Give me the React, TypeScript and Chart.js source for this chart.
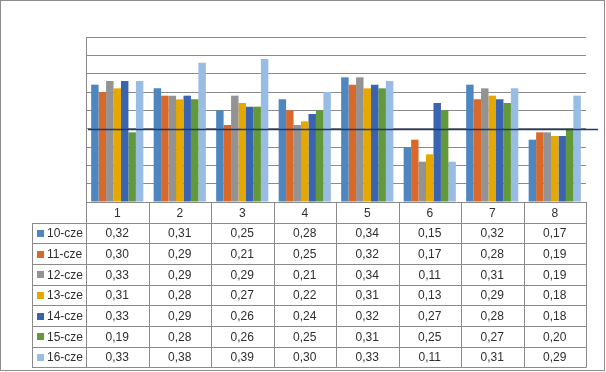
import React, { useEffect, useRef } from "react";
import { Chart, registerables } from "chart.js";

Chart.register(...registerables);

const categories = ["1", "2", "3", "4", "5", "6", "7", "8"];
const seriesNames = ["10-cze", "11-cze", "12-cze", "13-cze", "14-cze", "15-cze", "16-cze"];
const s10 = [0.32, 0.31, 0.25, 0.28, 0.34, 0.15, 0.32, 0.17];
const s11 = [0.30, 0.29, 0.21, 0.25, 0.32, 0.17, 0.28, 0.19];
const s12 = [0.33, 0.29, 0.29, 0.21, 0.34, 0.11, 0.31, 0.19];
const s13 = [0.31, 0.28, 0.27, 0.22, 0.31, 0.13, 0.29, 0.18];
const s14 = [0.33, 0.29, 0.26, 0.24, 0.32, 0.27, 0.28, 0.18];
const s15 = [0.19, 0.28, 0.26, 0.25, 0.31, 0.25, 0.27, 0.20];
const s16 = [0.33, 0.38, 0.39, 0.30, 0.33, 0.11, 0.31, 0.29];
const seriesValues = [s10, s11, s12, s13, s14, s15, s16];
const colors = ["#4E86C0", "#D9692B", "#939393", "#E5A800", "#3A64B0", "#62993A", "#98BCE3"];
const THRESHOLD = 0.2;
const Y_MAX = 0.45;
const Y_STEP = 0.05;

const FONT = "12px 'Liberation Sans', Arial, sans-serif";
const TEXT_COLOR = "#2e2e2e";
const LINE_COLOR = "#8a8a8a";

const thresholdPlugin = {
  id: "thresholdLine",
  afterDatasetsDraw(chart: any) {
    const { ctx, chartArea, scales } = chart;
    const y = Math.round(scales.y.getPixelForValue(THRESHOLD)) + 0.5;
    ctx.save();
    ctx.strokeStyle = "#1F3A6E";
    ctx.lineWidth = 1.5;
    ctx.beginPath();
    ctx.moveTo(chartArea.left + 2, y);
    ctx.lineTo(chartArea.right + 12, y);
    ctx.stroke();
    ctx.restore();
  },
};

const tablePlugin = {
  id: "dataTable",
  afterDraw(chart: any) {
    const { ctx, chartArea, scales } = chart;
    const xs = scales.x;
    const n = categories.length;
    const left = xs.left;
    const right = xs.right;
    const colW = (right - left) / n;
    const top = chartArea.bottom;
    const rowH = 20.66;
    const rows = seriesNames.length + 1;
    const bottom = top + rowH * rows;
    const legendLeft = 32;
    const px = (v: number) => Math.round(v) + 0.5;

    ctx.save();
    ctx.strokeStyle = LINE_COLOR;
    ctx.lineWidth = 1;
    ctx.beginPath();
    ctx.moveTo(left, px(top));
    ctx.lineTo(right, px(top));
    for (let r = 1; r <= rows; r++) {
      const y = px(top + r * rowH);
      ctx.moveTo(legendLeft, y);
      ctx.lineTo(right + 0.5, y);
    }
    for (let i = 0; i <= n; i++) {
      const x = px(left + i * colW);
      ctx.moveTo(x, top);
      ctx.lineTo(x, px(bottom));
    }
    ctx.moveTo(px(legendLeft), px(top + rowH));
    ctx.lineTo(px(legendLeft), px(bottom));
    ctx.stroke();

    ctx.font = FONT;
    ctx.fillStyle = TEXT_COLOR;
    ctx.textBaseline = "middle";
    ctx.textAlign = "center";
    categories.forEach((c, i) => {
      ctx.fillText(c, left + (i + 0.5) * colW, top + rowH / 2 + 1);
    });
    seriesNames.forEach((name, r) => {
      const cy = top + (r + 1.5) * rowH + 1;
      ctx.fillStyle = colors[r];
      ctx.fillRect(37, Math.round(cy - 4), 7, 7);
      ctx.fillStyle = TEXT_COLOR;
      ctx.textAlign = "left";
      ctx.fillText(name, 47, cy);
      ctx.textAlign = "center";
      seriesValues[r].forEach((v, i) => {
        ctx.fillText(v.toFixed(2).replace(".", ","), left + (i + 0.5) * colW, cy);
      });
    });

    ctx.strokeStyle = "#8c8c8c";
    ctx.strokeRect(0.5, 0.5, 604, 370);
    ctx.restore();
  },
};

export default function App() {
  const ref = useRef<HTMLCanvasElement | null>(null);
  useEffect(() => {
    if (!ref.current) return;
    const chart = new Chart(ref.current, {
      type: "bar",
      data: {
        labels: categories,
        datasets: seriesNames.map((name, i) => ({
          label: name,
          data: seriesValues[i],
          backgroundColor: colors[i],
          borderWidth: 0,
          categoryPercentage: 0.835,
          barPercentage: 1.0,
        })),
      },
      options: {
        animation: false,
        responsive: false,
        maintainAspectRatio: false,
        devicePixelRatio: 1,
        layout: { padding: { left: 86, top: 37, right: 20, bottom: 170 } },
        plugins: {
          legend: { display: false },
          tooltip: { enabled: false },
          title: { display: false },
        },
        scales: {
          x: { display: false },
          y: {
            display: true,
            min: 0,
            max: Y_MAX,
            ticks: { display: false, stepSize: Y_STEP },
            grid: { color: LINE_COLOR, drawTicks: false, lineWidth: 1 },
            border: { display: true, color: LINE_COLOR },
          },
        },
      },
      plugins: [thresholdPlugin, tablePlugin],
    });
    return () => chart.destroy();
  }, []);
  return (
    <div style={{ position: "fixed", left: 0, top: 0, width: 606, height: 372, background: "#fff" }}>
      <canvas ref={ref} width={606} height={372} style={{ display: "block" }} />
    </div>
  );
}
